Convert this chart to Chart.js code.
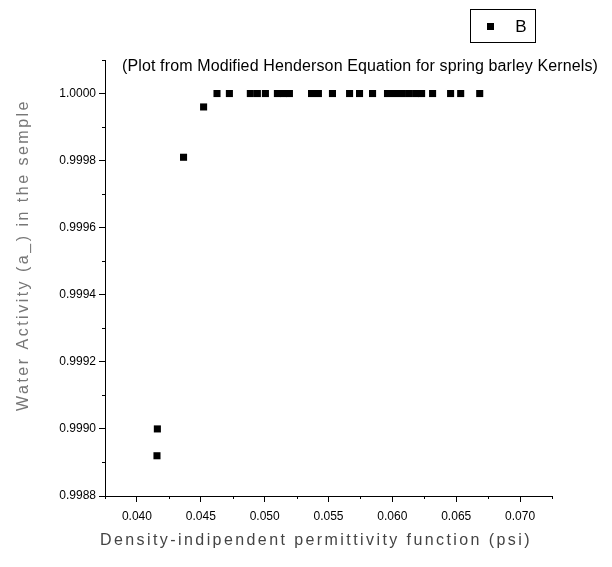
<!DOCTYPE html>
<html>
<head>
<meta charset="utf-8">
<script src="https://cdn.jsdelivr.net/npm/chart.js@4/dist/chart.umd.min.js"></script>
<style>
  html, body { margin: 0; padding: 0; background: #fff; }
  #wrap { width: 612px; height: 567px; }
</style>
</head>
<body>
<div id="wrap"><canvas id="scatterChart"></canvas></div>
<script>
// data
const psiValues = [
    0.04157, 0.04160, 0.04365, 0.04522, 0.04627, 0.04724,
    0.04888, 0.04943, 0.05006, 0.05100, 0.05147, 0.05194,
    0.05367, 0.05421, 0.05531, 0.05665, 0.05743, 0.05845,
    0.05962, 0.06017, 0.06072, 0.06127, 0.06182, 0.06229,
    0.06315, 0.06456, 0.06535, 0.06684
];
const awValues = [
    0.99892, 0.99900, 0.99981, 0.99996, 1.0000, 1.0000,
    1.0000, 1.0000, 1.0000, 1.0000, 1.0000, 1.0000,
    1.0000, 1.0000, 1.0000, 1.0000, 1.0000, 1.0000,
    1.0000, 1.0000, 1.0000, 1.0000, 1.0000, 1.0000,
    1.0000, 1.0000, 1.0000, 1.0000
];
const seriesName = "B";
const xTickLabels = ["0.040", "0.045", "0.050", "0.055", "0.060", "0.065", "0.070"];
const yTickLabels = ["0.9988", "0.9990", "0.9992", "0.9994", "0.9996", "0.9998", "1.0000"];

const chartTitle = "(Plot from Modified Henderson Equation for spring barley Kernels)";
const xTitle = "Density-indipendent permittivity function (psi)";
const yTitle = "Water Activity (a_) in the semple";

const points = psiValues.map((x, i) => ({ x: x, y: awValues[i] }));

function xLabel(v) {
    const s = v.toFixed(3);
    return xTickLabels.includes(s) && Math.abs(v - parseFloat(s)) < 1e-7 ? s : "";
}
function yLabel(v) {
    const s = v.toFixed(4);
    return yTickLabels.includes(s) && Math.abs(v - parseFloat(s)) < 1e-7 ? s : "";
}

function fitText(ctx, text, x, y, width) {
    ctx.letterSpacing = "0px";
    const w = ctx.measureText(text).width;
    const ls = (width - w) / text.length;
    ctx.letterSpacing = ls + "px";
    ctx.fillText(text, x, y);
    ctx.letterSpacing = "0px";
}

const decorations = {
    id: "decorations",
    afterDraw(c) {
        const ctx = c.ctx;
        const xs = c.scales.x, ys = c.scales.y;
        ctx.save();

        // minor ticks
        ctx.strokeStyle = "#000";
        ctx.lineWidth = 1;
        ctx.beginPath();
        xs.ticks.forEach(t => {
            if (xLabel(t.value) === "") {
                const px = Math.round(xs.getPixelForValue(t.value)) + 0.5;
                ctx.moveTo(px, xs.top);
                ctx.lineTo(px, xs.top + 3);
            }
        });
        ys.ticks.forEach(t => {
            if (yLabel(t.value) === "") {
                const py = Math.round(ys.getPixelForValue(t.value)) + 0.5;
                ctx.moveTo(ys.right, py);
                ctx.lineTo(ys.right - 3, py);
            }
        });
        ctx.stroke();

        // plot title inside the frame
        ctx.fillStyle = "#000";
        ctx.font = "16px 'Liberation Sans', Arial, sans-serif";
        ctx.textAlign = "left";
        ctx.textBaseline = "middle";
        fitText(ctx, chartTitle, 122, 67, 476);

        // axis titles
        ctx.fillStyle = "#444";
        ctx.font = "16px 'Liberation Sans', Arial, sans-serif";
        ctx.textAlign = "center";
        fitText(ctx, xTitle, 316, 541, 432);

        ctx.fillStyle = "#777";
        ctx.translate(24, 255);
        ctx.rotate(-Math.PI / 2);
        fitText(ctx, yTitle, 0, 0, 312);
        ctx.restore();

        // legend box
        ctx.save();
        ctx.strokeStyle = "#000";
        ctx.lineWidth = 1;
        ctx.strokeRect(470.5, 9.5, 65, 33);
        ctx.fillStyle = "#000";
        ctx.fillRect(487, 23, 7, 7);
        ctx.font = "17px 'Liberation Sans', Arial, sans-serif";
        ctx.textAlign = "center";
        ctx.textBaseline = "middle";
        ctx.fillText(seriesName, 521, 27);
        ctx.restore();
    }
};

let chart = new Chart(
    document.getElementById("scatterChart"),
    {
        type: "scatter",
        data: {
            datasets: [{
                label: seriesName,
                data: points,
                pointStyle: "rect",
                pointRadius: 5,
                pointBorderWidth: 0,
                backgroundColor: "#000",
                borderColor: "#000"
            }]
        },
        options: {
            responsive: true,
            maintainAspectRatio: false,
            animation: false,
            layout: {
                autoPadding: false,
                padding: { top: 60, right: 60, left: 0, bottom: 0 }
            },
            plugins: {
                legend: { display: false },
                tooltip: { enabled: false }
            },
            scales: {
                x: {
                    type: "linear",
                    min: 0.0375,
                    max: 0.0725,
                    afterFit: s => { s.height = 71; },
                    border: { display: true, color: "#000", width: 1 },
                    grid: {
                        drawOnChartArea: false,
                        tickLength: 6,
                        tickColor: ctx => xLabel(ctx.tick.value) ? "#000" : "rgba(0,0,0,0)"
                    },
                    ticks: {
                        stepSize: 0.0025,
                        autoSkip: false,
                        maxRotation: 0,
                        padding: 7,
                        color: "#000",
                        font: { family: "'Liberation Sans', Arial, sans-serif", size: 12 },
                        callback: v => xLabel(v)
                    }
                },
                y: {
                    type: "linear",
                    min: 0.9988,
                    max: 1.0001,
                    afterFit: s => { s.width = 105; },
                    border: { display: true, color: "#000", width: 1 },
                    grid: {
                        drawOnChartArea: false,
                        tickLength: 6,
                        tickColor: ctx => yLabel(ctx.tick.value) ? "#000" : "rgba(0,0,0,0)"
                    },
                    ticks: {
                        stepSize: 0.0001,
                        autoSkip: false,
                        padding: 3,
                        color: "#000",
                        font: { family: "'Liberation Sans', Arial, sans-serif", size: 12 },
                        callback: v => yLabel(v)
                    }
                }
            }
        },
        plugins: [decorations]
    }
);
</script>
</body>
</html>
